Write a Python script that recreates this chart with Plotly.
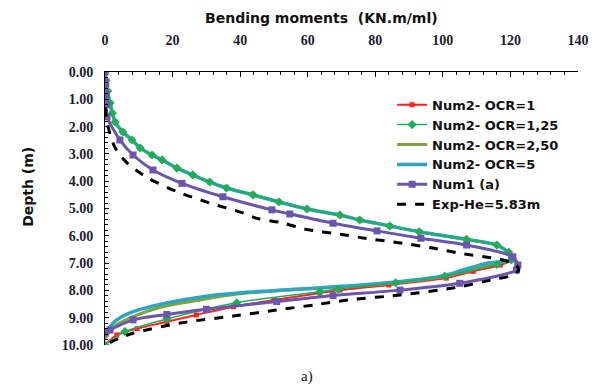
import plotly.graph_objects as go

# ---- data (depth in m, bending moment in KN.m/ml) ----
red_depth = [0, 0.5, 1.14, 1.83, 2.2, 2.49, 2.78, 3.04, 3.22, 3.52, 3.77, 4.03, 4.25, 4.5, 4.76, 5.02, 5.24, 5.42,
             5.64, 5.85, 6.13, 6.34, 6.63, 6.88, 7.07, 7.3, 7.55, 7.8, 7.99, 8.1, 8.35, 8.6, 8.9, 9.15, 9.4, 9.63, 10.0]
red_moment = [0, 0.5, 1.5, 3, 5.3, 8, 10.4, 13.9, 16.9, 21.3, 26, 31, 36, 43.8, 51.5, 59.8, 69.5, 75.4,
              84.3, 93, 107, 116, 119.5, 120.5, 117, 109, 101, 84, 69.5, 63.6, 50, 38, 27, 18.3, 9.5, 3.5, 0]

green_depth = [0, 0.3, 0.7, 1.14, 1.5, 1.83, 2.2, 2.49, 2.78, 3.04, 3.22, 3.52, 3.77, 4.03, 4.25, 4.5, 4.76, 5.02,
               5.24, 5.42, 5.64, 5.85, 6.13, 6.34, 6.6, 6.88, 7.05, 7.47, 7.72, 7.95, 8.05, 8.45, 9.05, 9.51, 10.0]
green_moment = [0, 0.3, 0.8, 1.5, 2.2, 3, 5.3, 8, 10.4, 13.9, 16.9, 21.3, 26, 31, 36, 43.8, 51.5, 59.8,
                69.5, 75.4, 84.3, 93, 107, 116, 119.5, 120.3, 116, 100.6, 86, 69, 63.6, 39, 18.3, 5.9, 0]

olive_depth = [0, 0.5, 1.14, 1.83, 2.2, 2.49, 2.78, 3.04, 3.22, 3.52, 3.77, 4.03, 4.25, 4.5, 4.76, 5.02, 5.24, 5.42,
               5.64, 5.85, 6.13, 6.34, 6.63, 6.88, 7.02, 7.3, 7.5, 7.7, 7.87, 8.01, 8.15, 8.35, 8.6, 8.96, 9.3, 9.75]
olive_moment = [0, 0.5, 1.5, 3, 5.3, 8, 10.4, 13.9, 16.9, 21.3, 26, 31, 36, 43.8, 51.5, 59.8, 69.5, 75.4,
                84.3, 93, 107, 116, 119.4, 120, 115, 107, 99.5, 87.5, 71, 51, 38, 28, 17, 8.3, 3, 0]

teal_depth = [0, 0.5, 1.14, 1.83, 2.2, 2.49, 2.78, 3.04, 3.22, 3.52, 3.77, 4.03, 4.25, 4.5, 4.76, 5.02, 5.24, 5.42,
              5.64, 5.85, 6.13, 6.34, 6.63, 6.89, 7.0, 7.25, 7.47, 7.68, 7.85, 7.97, 8.07, 8.23, 8.46, 8.78, 9.08,
              9.45, 9.55]
teal_moment = [0, 0.5, 1.5, 3, 5.3, 8, 10.4, 13.9, 16.9, 21.3, 26, 31, 36, 43.8, 51.5, 59.8, 69.5, 75.4,
               84.3, 93, 107, 116, 119.3, 119.8, 113, 106, 100, 87, 70, 55, 42, 29, 18.3, 8.3, 3.5, 0.6, 0]

purple_depth = [0, 0.4, 0.8, 1.2, 1.64, 2.49, 3.04, 3.59, 4.08, 4.57, 5.05, 5.2, 5.54, 5.82, 6.09, 6.34, 6.77,
                7.07, 7.25, 7.74, 7.99, 8.19, 8.41, 8.69, 8.88, 9.08, 9.45, 9.56]
purple_moment = [0, 0.2, 0.3, 0.4, 0.6, 4.4, 8.3, 14.2, 22.8, 34.9, 49.4, 54.7, 67.5, 80.5, 93.5, 107, 120.7,
                 122.2, 121.8, 105, 87.3, 67.5, 50.8, 30, 18.3, 8.3, 1.5, 0]

exp_depth = [1.3, 2.0, 2.78, 3.33, 3.88, 4.38, 4.8, 5.16, 5.36, 5.53, 5.75, 5.97, 6.09, 6.27, 6.45, 6.64, 6.86,
             7.05, 7.25, 7.44, 7.6, 7.89, 8.17, 8.35, 8.53, 8.72, 8.94, 9.18, 9.57, 9.74, 10.0]
exp_moment = [0, 0.9, 3, 6.5, 12.7, 21.3, 31, 40.8, 45, 52.7, 59, 71, 77, 88, 97, 105, 116.9,
              121.5, 122.5, 120.7, 115, 104, 87.3, 72, 62, 50.8, 38, 23, 8.3, 4.4, 0]

x_tick_vals = [0, 20, 40, 60, 80, 100, 120, 140]
y_tick_vals = [0, 1, 2, 3, 4, 5, 6, 7, 8, 9, 10]
y_tick_text = ["%.2f" % v for v in y_tick_vals]

fig = go.Figure()

def add(name, x, y, color, width, symbol=None, msize=0, dash="solid", rank=1):
    fig.add_trace(go.Scatter(
        x=x, y=y, name=name, legendrank=rank,
        mode="lines+markers" if symbol else "lines",
        line=dict(color=color, width=width, dash=dash, shape="spline", smoothing=0.8),
        marker=dict(symbol=symbol or "circle", size=msize, color=color),
    ))

add("Num2- OCR=1", red_moment, red_depth, "#ff1f1f", 2, "square", 5, rank=1)
add("Num2- OCR=2,50", olive_moment, olive_depth, "#7ea33c", 3, "triangle-down", 4, rank=3)
add("Num2- OCR=5", teal_moment, teal_depth, "#2fa6bd", 3.5, "circle", 3, rank=4)
add("Num2- OCR=1,25", green_moment, green_depth, "#1fae57", 1.5, "diamond", 7, rank=2)
add("Num1 (a)", purple_moment, purple_depth, "#6a56aa", 3, "square", 7, rank=5)
add("Exp-He=5.83m", exp_moment, exp_depth, "#000000", 3, None, 0, dash="dash", rank=6)

fig.update_layout(
    width=603, height=389,
    margin=dict(l=105, r=25, t=72, b=44),
    paper_bgcolor="white", plot_bgcolor="white",
    showlegend=True,
    legend=dict(x=0.607, y=0.935, xanchor="left", yanchor="top",
                bgcolor="rgba(255,255,255,0.9)", tracegroupgap=0,
                font=dict(family="DejaVu Sans", size=13, color="#111", weight="bold")),
    annotations=[
        dict(text="Bending moments  (KN.m/ml)", xref="paper", yref="paper", x=0.457, y=1.198,
             xanchor="center", yanchor="middle", showarrow=False,
             font=dict(family="DejaVu Sans", size=14, color="#111", weight="bold")),
        dict(text="Depth (m)", xref="paper", yref="paper", x=-0.163, y=0.579, textangle=-90,
             xanchor="center", yanchor="middle", showarrow=False,
             font=dict(family="DejaVu Sans", size=14, color="#111", weight="bold")),
        dict(text="a)", xref="paper", yref="paper", x=0.427, y=-0.117, showarrow=False,
             xanchor="center", yanchor="middle",
             font=dict(family="Liberation Serif", size=15, color="#111")),
    ],
)

fig.update_xaxes(
    side="top", range=[0, 140], tickvals=x_tick_vals,
    showline=True, linecolor="black", linewidth=1, showgrid=False, zeroline=False,
    ticks="inside", ticklen=5, tickcolor="black", ticklabelstandoff=20,
    minor=dict(dtick=4, ticks="inside", ticklen=3, tickcolor="black"),
    tickfont=dict(family="Liberation Serif", size=14, color="#1c1c2e", weight="bold"),
)
fig.update_yaxes(
    range=[10, 0], tickvals=y_tick_vals, ticktext=y_tick_text,
    showline=True, linecolor="black", linewidth=1, showgrid=False, zeroline=False,
    ticks="inside", ticklen=4, tickcolor="black", ticklabelstandoff=8,
    minor=dict(dtick=0.2, ticks="inside", ticklen=3, tickcolor="black"),
    tickfont=dict(family="Liberation Serif", size=14, color="#1c1c2e", weight="bold"),
)

fig.write_html("out.html")
